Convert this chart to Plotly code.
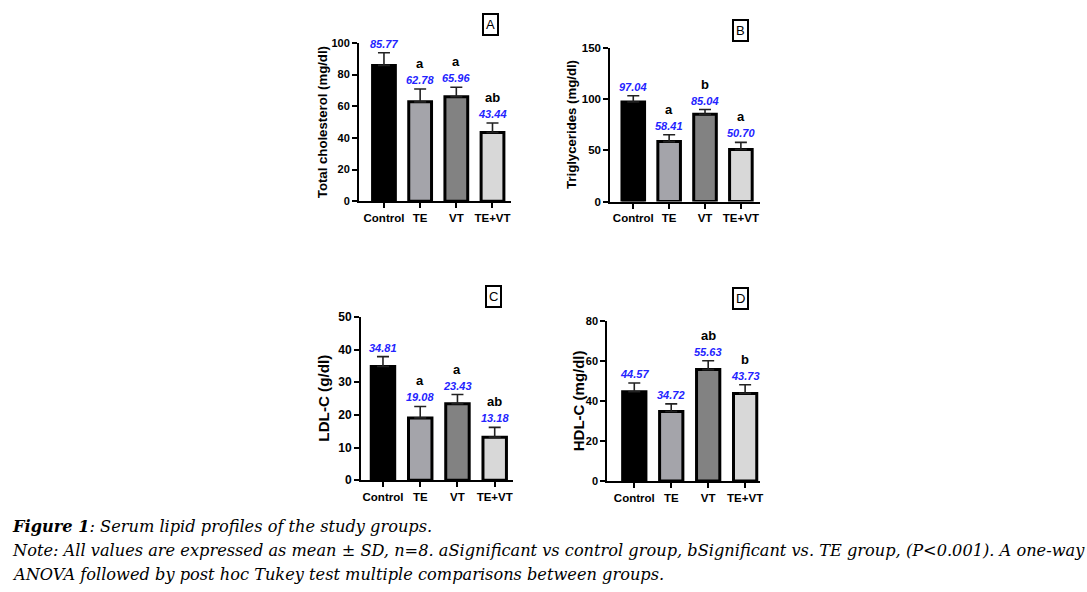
import plotly.graph_objects as go

W, H = 1087, 592

groups = ["Control", "TE", "VT", "TE+VT"]
bar_colors = ["#000000", "#a4a4aa", "#828282", "#d8d8d8"]

tc_mean = [85.77, 62.78, 65.96, 43.44]
tc_sd = [8.0, 8.1, 6.0, 6.0]
tc_letters = ["", "a", "a", "ab"]

tg_mean = [97.04, 58.41, 85.04, 50.70]
tg_sd = [6.0, 6.6, 4.6, 7.0]
tg_letters = ["", "a", "b", "a"]

ldl_mean = [34.81, 19.08, 23.43, 13.18]
ldl_sd = [3.0, 3.5, 2.8, 3.0]
ldl_letters = ["", "a", "a", "ab"]

hdl_mean = [44.57, 34.72, 55.63, 43.73]
hdl_sd = [4.4, 3.8, 4.4, 4.3]
hdl_letters = ["", "", "ab", "b"]

panels = [
    dict(tag="A", mean=tc_mean, sd=tc_sd, let=tc_letters, title="Total cholesterol (mg/dl)",
         yr=[0, 100], dt=20, xd=(360, 512), yd=(41, 200), xr=[-0.69, 3.5], tx=323, box=(492, 23),
         tfs=13.2, yfs=11),
    dict(tag="B", mean=tg_mean, sd=tg_sd, let=tg_letters, title="Triglycerides (mg/dl)",
         yr=[0, 150], dt=50, xd=(612, 762), yd=(45.7, 200.3), xr=[-0.64, 3.53], tx=573, box=(743, 29),
         tfs=13.2, yfs=11.5),
    dict(tag="C", mean=ldl_mean, sd=ldl_sd, let=ldl_letters, title="LDL-C (g/dl)",
         yr=[0, 50], dt=10, xd=(362, 514), yd=(316, 480), xr=[-0.59, 3.48], tx=324, box=(495, 296),
         tfs=15.2, yfs=12),
    dict(tag="D", mean=hdl_mean, sd=hdl_sd, let=hdl_letters, title="HDL-C (mg/dl)",
         yr=[0, 80], dt=20, xd=(609, 762), yd=(320, 480.7), xr=[-0.73, 3.4], tx=580, box=(743, 298),
         tfs=15, yfs=11),
]


def py(v):
    # pixel row (from top) -> paper fraction
    v = (v - 5) / 0.98
    return 1 - v / H


FONT = "Liberation Sans, Arial, sans-serif"
fig = go.Figure()
annotations = []
layout = {}

for i, p in enumerate(panels):
    k = "" if i == 0 else str(i + 1)
    xs = list(range(len(groups)))
    fig.add_trace(go.Bar(
        x=xs, y=p["mean"], width=0.63,
        marker=dict(color=bar_colors, line=dict(color="black", width=3)),
        error_y=dict(type="data", array=p["sd"], arrayminus=[0] * 4, symmetric=False,
                     color="#222222", thickness=1.6, width=6),
        xaxis="x" + k, yaxis="y" + k, showlegend=False,
    ))
    layout["xaxis" + k] = dict(
        domain=[p["xd"][0] / W, p["xd"][1] / W], range=p["xr"], anchor="y" + k,
        tickvals=xs, ticktext=groups, showline=True, linecolor="black", linewidth=2,
        ticks="outside", ticklen=5, tickwidth=2, tickcolor="black", showgrid=False, zeroline=False,
        tickfont=dict(family=FONT, size=11.5, color="black", weight="bold"), fixedrange=True,
    )
    layout["yaxis" + k] = dict(
        domain=[py(p["yd"][1]), py(p["yd"][0])], range=p["yr"], anchor="x" + k,
        dtick=p["dt"], tick0=0, showline=True, linecolor="black", linewidth=2,
        ticks="outside", ticklen=5, tickwidth=2, tickcolor="black", showgrid=False, zeroline=False,
        tickfont=dict(family=FONT, size=p["yfs"], color="black", weight="bold"),
    )
    annotations.append(dict(
        text=p["title"], x=p["tx"] / W, y=py((p["yd"][0] + p["yd"][1]) / 2),
        xref="paper", yref="paper", textangle=-90, showarrow=False,
        xanchor="center", yanchor="middle",
        font=dict(family=FONT, size=p["tfs"], color="black", weight="bold"),
    ))
    annotations.append(dict(
        text=p["tag"], x=p["box"][0] / W, y=py(p["box"][1]), xref="paper", yref="paper",
        showarrow=False, xanchor="center", yanchor="middle", bordercolor="black", borderwidth=2,
        borderpad=2, bgcolor="white",
        font=dict(family=FONT, size=13, color="black"),
    ))
    for j in xs:
        top = p["mean"][j] + p["sd"][j]
        annotations.append(dict(
            text=f"{p['mean'][j]:.2f}", x=j, y=top, xref="x" + k, yref="y" + k,
            showarrow=False, yanchor="bottom", yshift=1,
            font=dict(family=FONT, size=11, color="#2323ff", weight="bold", style="italic"),
        ))
        if p["let"][j]:
            annotations.append(dict(
                text=p["let"][j], x=j, y=top, xref="x" + k, yref="y" + k,
                showarrow=False, yanchor="bottom", yshift=16,
                font=dict(family=FONT, size=13, color="black", weight="bold"),
            ))

SERIF = "DejaVu Serif, Liberation Serif, serif"
cap_lines = [
    ("<b><i>Figure 1</i></b><i>: Serum lipid profiles of the study groups.</i>", 526),
    ("<i>Note: All values are expressed as mean ± SD, n=8. aSignificant vs control group, "
     "bSignificant vs. TE group, (P&lt;0.001). A one-way</i>", 551),
    ("<i>ANOVA followed by post hoc Tukey test multiple comparisons between groups.</i>", 575),
]
for t, yp in cap_lines:
    annotations.append(dict(
        text=t, x=10 / W, y=py(yp), xref="paper", yref="paper", showarrow=False,
        xanchor="left", yanchor="middle", font=dict(family=SERIF, size=16.2, color="black"),
    ))

fig.update_layout(
    width=W, height=H, margin=dict(l=0, r=0, t=0, b=0),
    paper_bgcolor="white", plot_bgcolor="white",
    annotations=annotations, **layout,
)
fig.write_html("out.html", config={"displayModeBar": False},
               post_script="document.body.style.margin='0';")
